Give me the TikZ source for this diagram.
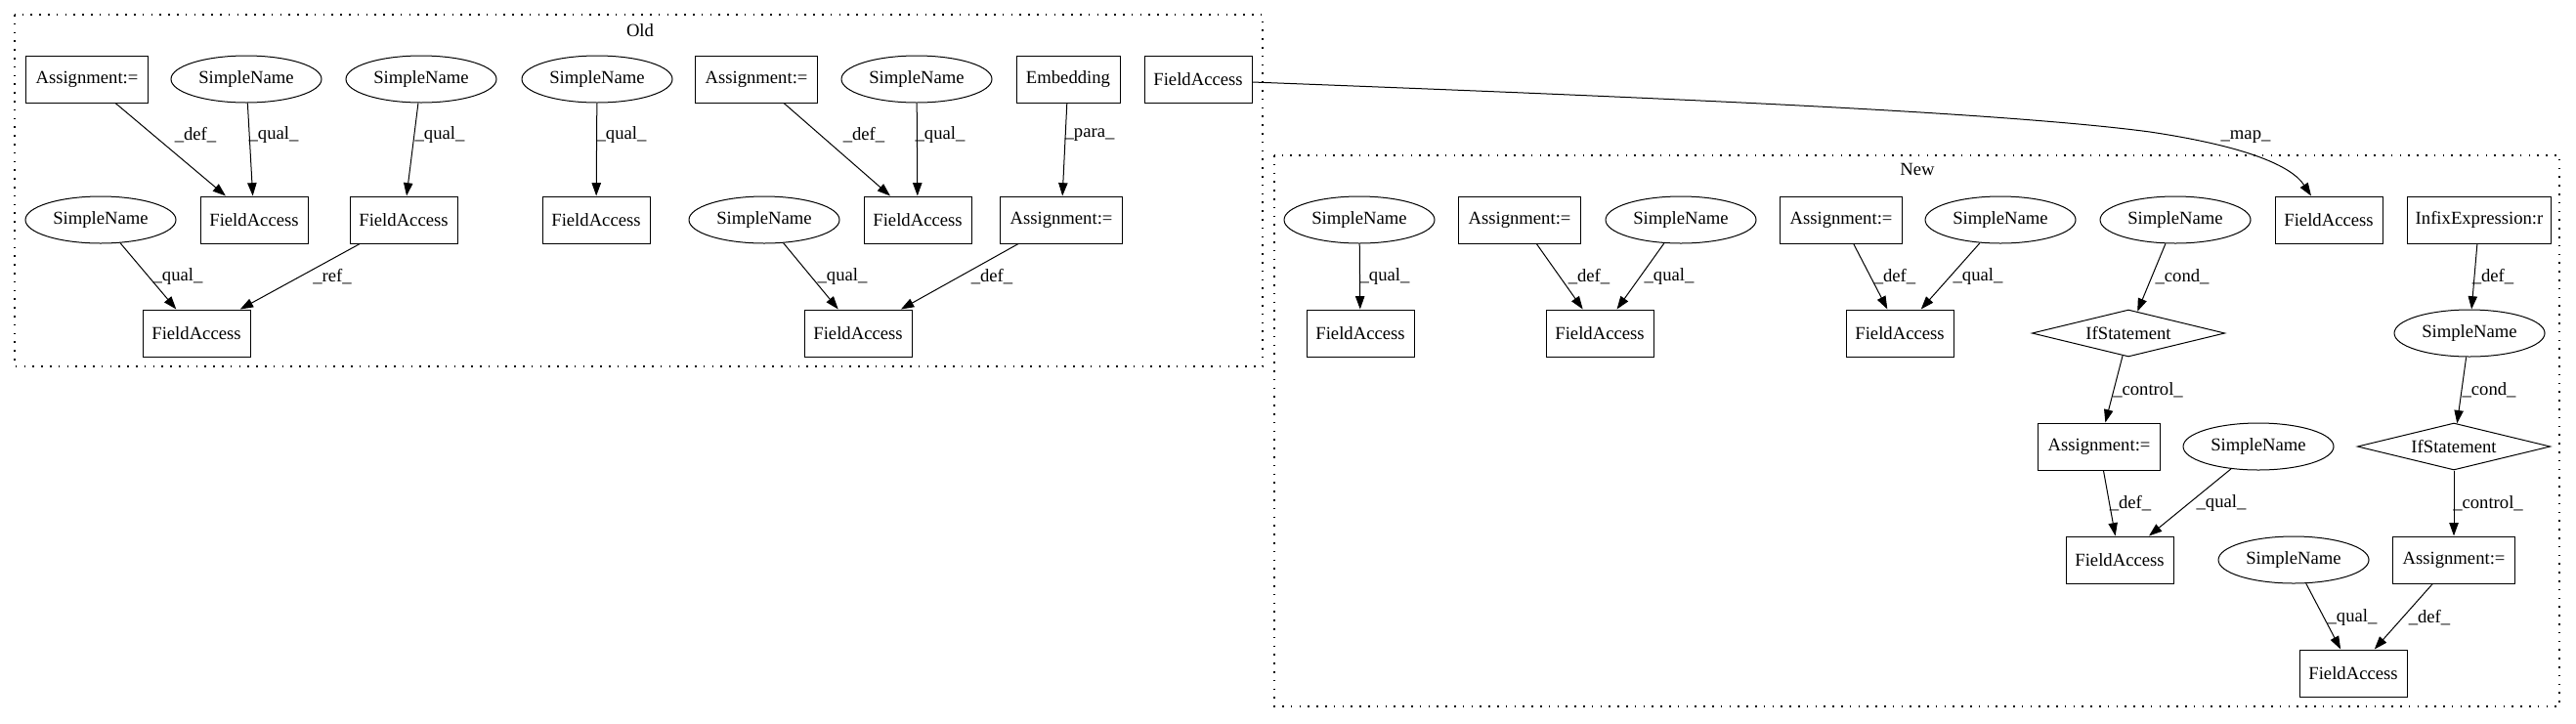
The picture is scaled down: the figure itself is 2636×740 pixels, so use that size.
\documentclass[tikz,border=0pt]{standalone}
\usepackage{fontspec}
\setmainfont{Liberation Serif}
\usetikzlibrary{shapes.geometric,arrows.meta,calc}
\begin{document}
\begin{tikzpicture}[x=0.75pt,y=-0.75pt,font=\fontsize{14pt}{16pt}\selectfont,
  box/.style={draw,line width=0.75pt,rectangle,minimum height=36pt,inner sep=0pt,minimum width=#1},
  box/.default=82.5pt,
  ell/.style={draw,line width=0.75pt,ellipse,minimum width=115.5pt,minimum height=36pt,inner sep=0pt},
  dia/.style={draw,line width=0.75pt,diamond,shape aspect=4,minimum width=148pt,minimum height=36pt,inner sep=0pt},
  arr/.style={draw,line width=0.75pt,-{Triangle[length=10pt,width=7pt]}},
  lbl/.style={inner sep=0pt},
  clus/.style={draw,line width=1pt,dash pattern=on 1.2pt off 5.4pt}]
\useasboundingbox (0,0) rectangle (2636,740);
% clusters
\draw[clus] (15,15) rectangle (1292,375);
\draw[clus] (1304,159) rectangle (2619,723);
\node (oldlbl) at (655,31) {Old};
\node (newlbl) at (1962,173) {New};
% Old nodes
\node[box=94pt] (oa1) at (89,81) {Assignment:=};
\node[ell] (os1) at (252,81) {SimpleName};
\node[ell] (os2) at (431,81) {SimpleName};
\node[ell] (os3) at (611,81) {SimpleName};
\node[box=94pt] (oa2) at (774,81) {Assignment:=};
\node[ell] (os4) at (938,81) {SimpleName};
\node[box=79.5pt] (oemb) at (1093,81) {Embedding};
\node[box] (ofa0) at (1226,81) {FieldAccess};
\node[ell] (os5) at (103,225) {SimpleName};
\node[box] (ofa1) at (260,225) {FieldAccess};
\node[box] (ofa2) at (413,225) {FieldAccess};
\node[box] (ofa3) at (610,225) {FieldAccess};
\node[ell] (os6) at (782,225) {SimpleName};
\node[box] (ofa4) at (939,225) {FieldAccess};
\node[box=94pt] (oa3) at (1086,225) {Assignment:=};
\node[box] (ofa5) at (201,341) {FieldAccess};
\node[box] (ofa6) at (878,341) {FieldAccess};
% New nodes
\node[ell] (ns1) at (1391,225) {SimpleName};
\node[box=94pt] (na1) at (1555,225) {Assignment:=};
\node[ell] (ns2) at (1720,225) {SimpleName};
\node[box=94pt] (na2) at (1884,225) {Assignment:=};
\node[ell] (ns3) at (2047,225) {SimpleName};
\node[ell] (ns4) at (2226,225) {SimpleName};
\node[box] (nfa0) at (2383,225) {FieldAccess};
\node[box=110pt] (ninf) at (2537,225) {InfixExpression:r};
\node[box] (nfa1) at (1392,341) {FieldAccess};
\node[box] (nfa2) at (1637,341) {FieldAccess};
\node[box] (nfa3) at (1944,341) {FieldAccess};
\node[dia] (nif1) at (2178,341) {IfStatement};
\node[ell] (ns5) at (2527,341) {SimpleName};
\node[box=94pt] (na3) at (2148,457) {Assignment:=};
\node[ell] (ns6) at (2311,457) {SimpleName};
\node[dia] (nif2) at (2511,457) {IfStatement};
\node[box] (nfa4) at (2169,573) {FieldAccess};
\node[ell] (ns7) at (2347,573) {SimpleName};
\node[box=94pt] (na4) at (2511,573) {Assignment:=};
\node[box] (nfa5) at (2408,689) {FieldAccess};
% Old edges
\draw[arr] (oa1) -- (ofa1) node[lbl] at (200,138) {\_def\_};
\draw[arr] (os1) -- (ofa1) node[lbl] at (280,138) {\_qual\_};
\draw[arr] (os2) -- (ofa2) node[lbl] at (450,138) {\_qual\_};
\draw[arr] (os3) -- (ofa3) node[lbl] at (636,138) {\_qual\_};
\draw[arr] (oa2) -- (ofa4) node[lbl] at (884,138) {\_def\_};
\draw[arr] (os4) -- (ofa4) node[lbl] at (962,138) {\_qual\_};
\draw[arr] (oemb) -- (oa3) node[lbl] at (1115,138) {\_para\_};
\draw[arr] (os5) -- (ofa5) node[lbl] at (182,283) {\_qual\_};
\draw[arr] (ofa2) -- (ofa5) node[lbl] at (340,283) {\_ref\_};
\draw[arr] (os6) -- (ofa6) node[lbl] at (862,283) {\_qual\_};
\draw[arr] (oa3) -- (ofa6) node[lbl] at (1015,283) {\_def\_};
% map edge
\coordinate (mapmid) at (2200,135);
\draw[arr] ($(ofa0.east)+(0,3)$) .. controls (1700,100) and (2050,115) .. (mapmid)
  .. controls (2300,150) and (2345,170) .. ($(nfa0.north)+(-18,0)$) node[lbl] at (2298,140) {\_map\_};
% New edges
\draw[arr] (ns1) -- (nfa1) node[lbl] at (1417,283) {\_qual\_};
\draw[arr] (na1) -- (nfa2) node[lbl] at (1626,283) {\_def\_};
\draw[arr] (ns2) -- (nfa2) node[lbl] at (1708,283) {\_qual\_};
\draw[arr] (na2) -- (nfa3) node[lbl] at (1939,283) {\_def\_};
\draw[arr] (ns3) -- (nfa3) node[lbl] at (2024,283) {\_qual\_};
\draw[arr] (ns4) -- (nif1) node[lbl] at (2233,283) {\_cond\_};
\draw[arr] (ninf) -- (ns5) node[lbl] at (2551,283) {\_def\_};
\draw[arr] (nif1) -- (na3) node[lbl] at (2198,399) {\_control\_};
\draw[arr] (ns5) -- (nif2) node[lbl] at (2547,399) {\_cond\_};
\draw[arr] (na3) -- (nfa4) node[lbl] at (2180,515) {\_def\_};
\draw[arr] (ns6) -- (nfa4) node[lbl] at (2273,515) {\_qual\_};
\draw[arr] (nif2) -- (na4) node[lbl] at (2546,515) {\_control\_};
\draw[arr] (ns7) -- (nfa5) node[lbl] at (2407,632) {\_qual\_};
\draw[arr] (na4) -- (nfa5) node[lbl] at (2486,632) {\_def\_};
\end{tikzpicture}
\end{document}
